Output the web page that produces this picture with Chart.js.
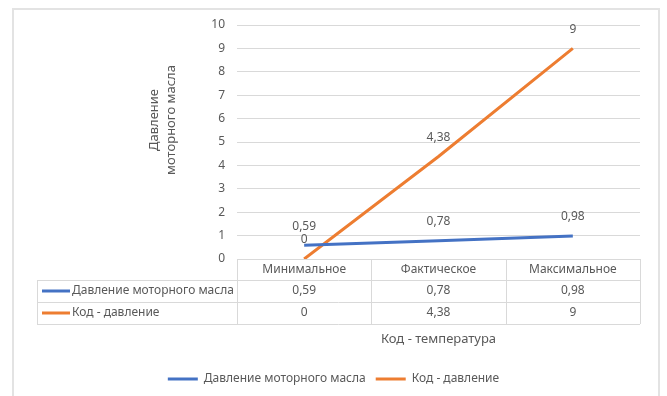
<!DOCTYPE html>
<html>
<head>
<meta charset="utf-8">
<script src="https://cdn.jsdelivr.net/npm/chart.js@4.4.0/dist/chart.umd.min.js"></script>
<style>
  html, body { margin: 0; padding: 0; background: #fff; }
  #wrap { width: 667px; height: 396px; }
</style>
</head>
<body>
<div id="wrap"><canvas id="chart" width="667" height="396"></canvas></div>
<script>
// ---- данные ----
const categories = ["Минимальное", "Фактическое", "Максимальное"];
const oilPressure = [0.59, 0.78, 0.98];
const codePressure = [0, 4.38, 9];
const seriesNames = ["Давление моторного масла", "Код - давление"];
const yTitle = ["Давление", "моторного масла"];
const xTitle = "Код - температура";
const yTicks = [0, 1, 2, 3, 4, 5, 6, 7, 8, 9, 10];

const BLUE = "#4472C4";
const ORANGE = "#ED7D31";
const TEXT = "#595959";
const GRID = "#d9d9d9";
const FONT = "'Noto Sans', sans-serif";

function fmt(v) {
    return String(v).replace(".", ",");
}

// рамка вокруг диаграммы + подпись оси Y
const framePlugin = {
    id: "frame",
    beforeDraw(chart) {
        const ctx = chart.ctx;
        ctx.save();
        ctx.strokeStyle = "#e3e3e3";
        ctx.lineWidth = 2;
        ctx.beginPath();
        ctx.moveTo(13, 400);
        ctx.lineTo(13, 9);
        ctx.lineTo(659, 9);
        ctx.lineTo(659, 400);
        ctx.stroke();

        ctx.translate(163, 120);
        ctx.rotate(-Math.PI / 2);
        ctx.font = "13px " + FONT;
        ctx.fillStyle = TEXT;
        ctx.textAlign = "center";
        ctx.textBaseline = "middle";
        ctx.fillText(yTitle[0], 0, -8.5);
        ctx.fillText(yTitle[1], 0, 8.5);
        ctx.restore();
    }
};

// подписи данных над точками
const labelsPlugin = {
    id: "pointLabels",
    afterDatasetsDraw(chart) {
        const ctx = chart.ctx;
        ctx.save();
        ctx.font = "12px " + FONT;
        ctx.fillStyle = TEXT;
        ctx.textAlign = "center";
        ctx.textBaseline = "middle";
        chart.data.datasets.forEach((ds, i) => {
            chart.getDatasetMeta(i).data.forEach((pt, j) => {
                ctx.fillText(fmt(ds.data[j]), pt.x, pt.y - 19);
            });
        });
        ctx.restore();
    }
};

// таблица данных под осью
const tablePlugin = {
    id: "dataTable",
    afterDraw(chart) {
        const ctx = chart.ctx;
        const x = chart.scales.x;
        const area = chart.chartArea;
        const step = x.getPixelForValue(1) - x.getPixelForValue(0);
        const left = 37;
        const rowH = [21, 22, 22];
        const top = area.bottom;
        const bottom = top + rowH[0] + rowH[1] + rowH[2];
        ctx.save();
        ctx.strokeStyle = GRID;
        ctx.lineWidth = 1;
        ctx.beginPath();
        let y = top;
        ctx.moveTo(area.left, y + 0.5); ctx.lineTo(area.right, y + 0.5);
        y += rowH[0];
        for (let r = 1; r <= 2; r++) {
            ctx.moveTo(left, Math.round(y) + 0.5); ctx.lineTo(area.right, Math.round(y) + 0.5);
            y += rowH[r];
        }
        ctx.moveTo(left, Math.round(y) + 0.5); ctx.lineTo(area.right, Math.round(y) + 0.5);
        ctx.moveTo(left + 0.5, top + rowH[0]); ctx.lineTo(left + 0.5, bottom);
        for (let c = 0; c <= categories.length; c++) {
            const cx = Math.round(x.getPixelForValue(c) - step / 2) + 0.5;
            ctx.moveTo(cx, top); ctx.lineTo(cx, bottom);
        }
        ctx.stroke();

        ctx.font = "12px " + FONT;
        ctx.fillStyle = TEXT;
        ctx.textBaseline = "middle";
        ctx.textAlign = "center";
        const headY = top + rowH[0] / 2;
        categories.forEach((c, i) => ctx.fillText(c, x.getPixelForValue(i), headY));

        let ry = top + rowH[0];
        chart.data.datasets.forEach((ds, i) => {
            const cy = ry + rowH[i + 1] / 2;
            ctx.strokeStyle = ds.borderColor;
            ctx.lineWidth = 3;
            ctx.beginPath();
            ctx.moveTo(42, cy); ctx.lineTo(70, cy);
            ctx.stroke();
            ctx.textAlign = "left";
            ctx.fillStyle = TEXT;
            ctx.fillText(ds.label, 72, cy);
            ctx.textAlign = "center";
            ds.data.forEach((v, j) => ctx.fillText(fmt(v), x.getPixelForValue(j), cy));
            ry += rowH[i + 1];
        });
        ctx.restore();
    }
};

new Chart(document.getElementById("chart"), {
    type: "line",
    data: {
        labels: categories,
        datasets: [
            {
                label: seriesNames[0],
                data: oilPressure,
                borderColor: BLUE,
                backgroundColor: BLUE,
                borderWidth: 3,
                pointRadius: 0,
                tension: 0
            },
            {
                label: seriesNames[1],
                data: codePressure,
                borderColor: ORANGE,
                backgroundColor: ORANGE,
                borderWidth: 3,
                pointRadius: 0,
                tension: 0
            }
        ]
    },
    options: {
        responsive: false,
        animation: false,
        layout: { padding: { left: 27, right: 27, top: 25, bottom: 1 } },
        scales: {
            x: {
                offset: true,
                grid: { display: false, drawTicks: false },
                border: { display: false },
                ticks: { display: false },
                title: {
                    display: true,
                    text: xTitle,
                    color: TEXT,
                    font: { family: FONT, size: 13 },
                    padding: { top: 0, bottom: 16 }
                },
                afterFit(scale) { scale.height = 104; }
            },
            y: {
                min: 0,
                max: 10,
                afterBuildTicks(scale) { scale.ticks = yTicks.map(v => ({ value: v })); },
                grid: { color: GRID, drawTicks: false },
                border: { display: false },
                ticks: {
                    color: TEXT,
                    padding: 12,
                    font: { family: FONT, size: 12 }
                },
                afterFit(scale) { scale.width = 210; }
            }
        },
        plugins: {
            tooltip: { enabled: false },
            legend: {
                position: "bottom",
                labels: {
                    color: TEXT,
                    font: { family: FONT, size: 12 },
                    boxWidth: 30,
                    boxHeight: 3,
                    padding: 10,
                    generateLabels(chart) {
                        const items = Chart.defaults.plugins.legend.labels.generateLabels(chart);
                        items.forEach(it => { it.lineWidth = 0; });
                        return items;
                    }
                }
            }
        }
    },
    plugins: [framePlugin, labelsPlugin, tablePlugin]
});
</script>
</body>
</html>
